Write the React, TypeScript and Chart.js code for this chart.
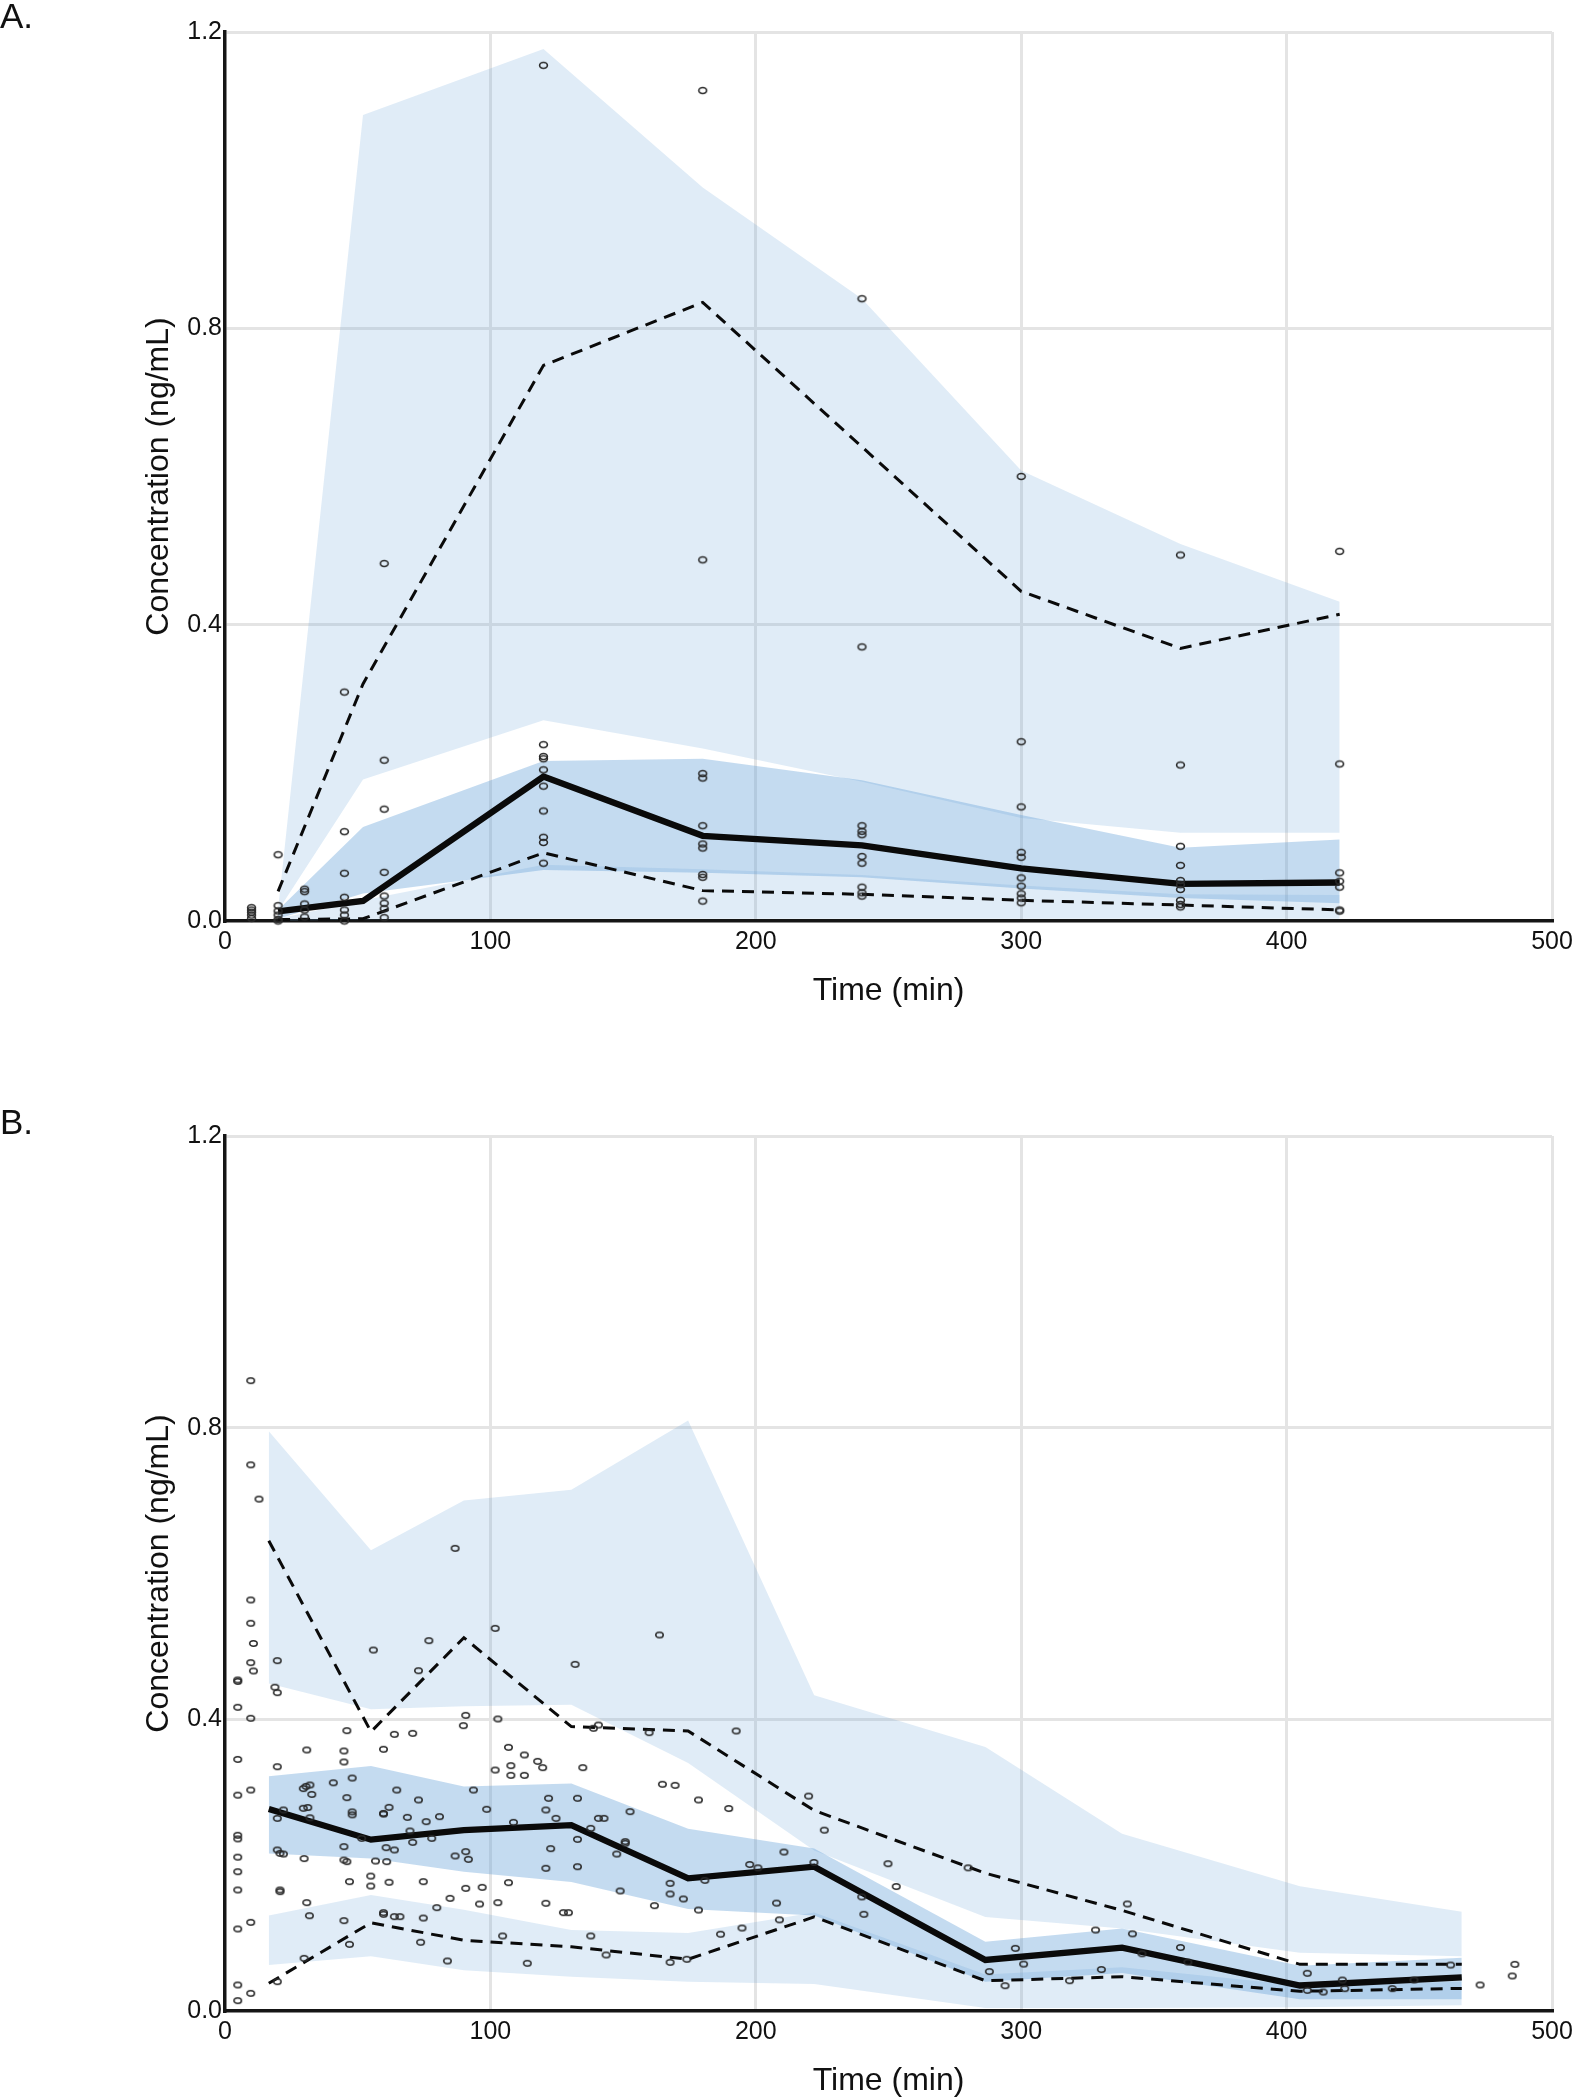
import React, { useEffect, useRef } from 'react';
import { Chart, registerables } from 'chart.js';

Chart.register(...registerables);

const FONT = "'Liberation Sans', Arial, Helvetica, sans-serif";
const LIGHT = 'rgba(100,160,215,0.2)';
const MID = 'rgba(100,160,215,0.38)';

// ---------------- Panel A ----------------
const binTimesA = [20, 52, 120, 180, 240, 300, 360, 420];
const obsMedianA = [0.013, 0.027, 0.195, 0.115, 0.102, 0.071, 0.05, 0.052];
const obsP95A = [0.04, 0.32, 0.75, 0.835, 0.64, 0.445, 0.368, 0.414];
const obsP5A = [0.002, 0.003, 0.092, 0.041, 0.036, 0.028, 0.0215, 0.015];
const ciP95UpperA = [0.016, 1.088, 1.177, 0.99, 0.84, 0.608, 0.509, 0.431];
const ciP95LowerA = [0.014, 0.191, 0.271, 0.233, 0.188, 0.139, 0.119, 0.119];
const ciMedUpperA = [0.015, 0.127, 0.216, 0.219, 0.19, 0.143, 0.099, 0.11];
const ciMedLowerA = [0.003, 0.037, 0.069, 0.065, 0.059, 0.044, 0.031, 0.024];
const ciP5UpperA = [0.003, 0.028, 0.076, 0.07, 0.062, 0.048, 0.036, 0.035];
const ciP5LowerA = [0.0, 0.002, 0.003, 0.003, 0.003, 0.003, 0.003, 0.003];

const observedA: [number, number][] = [
  [10, 0.018], [10, 0.0148], [10, 0.0118], [10, 0.008], [10, 0.0036],
  [20, 0.0895], [20, 0.0207], [20, 0.0135], [20, 0.008], [20, 0.0022], [20, 0.0],
  [30, 0.043], [30, 0.0396], [30, 0.023], [30, 0.0149], [30, 0.0054],
  [45, 0.309], [45, 0.1206], [45, 0.0644], [45, 0.032], [45, 0.0149], [45, 0.008], [45, 0.0],
  [60, 0.4825], [60, 0.217], [60, 0.151], [60, 0.0657], [60, 0.0337], [60, 0.024], [60, 0.0166], [60, 0.0045],
  [120, 1.155], [120, 0.238], [120, 0.222], [120, 0.219], [120, 0.204], [120, 0.182], [120, 0.1485], [120, 0.113], [120, 0.106], [120, 0.078],
  [180, 1.121], [180, 0.4875], [180, 0.199], [180, 0.193], [180, 0.1286], [180, 0.104], [180, 0.0985], [180, 0.0627], [180, 0.059], [180, 0.0269],
  [240, 0.84], [240, 0.37], [240, 0.1286], [240, 0.121], [240, 0.1165], [240, 0.087], [240, 0.078], [240, 0.0457], [240, 0.038], [240, 0.0336],
  [300, 0.6], [300, 0.242], [300, 0.154], [300, 0.0927], [300, 0.086], [300, 0.0582], [300, 0.047], [300, 0.0367], [300, 0.031], [300, 0.0246],
  [360, 0.494], [360, 0.2105], [360, 0.1008], [360, 0.075], [360, 0.0546], [360, 0.049], [360, 0.0426], [360, 0.0278], [360, 0.0224], [360, 0.019],
  [420, 0.499], [420, 0.212], [420, 0.065], [420, 0.0537], [420, 0.0457], [420, 0.0148], [420, 0.0134],
];

// ---------------- Panel B ----------------
const binTimesB = [16.5, 55, 90, 130.5, 174.5, 222, 286.5, 338, 405, 466];
const obsMedianB = [0.277, 0.235, 0.248, 0.255, 0.182, 0.198, 0.07, 0.087, 0.035, 0.046];
const obsP95B = [0.645, 0.383, 0.512, 0.39, 0.384, 0.275, 0.189, 0.138, 0.064, 0.064];
const obsP5B = [0.038, 0.121, 0.097, 0.088, 0.071, 0.129, 0.0415, 0.047, 0.027, 0.031];
const ciP95UpperB = [0.795, 0.632, 0.7, 0.715, 0.81, 0.433, 0.362, 0.243, 0.171, 0.136];
const ciP95LowerB = [0.449, 0.414, 0.418, 0.42, 0.34, 0.22, 0.129, 0.113, 0.08, 0.075];
const ciMedUpperB = [0.322, 0.336, 0.308, 0.312, 0.25, 0.223, 0.095, 0.113, 0.062, 0.073];
const ciMedLowerB = [0.216, 0.209, 0.191, 0.177, 0.14, 0.131, 0.04, 0.052, 0.016, 0.016];
const ciP5UpperB = [0.131, 0.159, 0.139, 0.111, 0.107, 0.135, 0.05, 0.06, 0.035, 0.04];
const ciP5LowerB = [0.063, 0.075, 0.056, 0.047, 0.04, 0.037, 0.004, 0.004, 0.005, 0.008];

const observedB: [number, number][] = [
  [4.8, 0.454], [4.8, 0.452], [4.8, 0.4165], [4.8, 0.345], [4.8, 0.296], [4.8, 0.241], [4.8, 0.236], [4.8, 0.211], [4.8, 0.191], [4.8, 0.166], [4.8, 0.1125], [4.8, 0.0357], [4.8, 0.0142],
  [9.7, 0.8645], [9.7, 0.749], [9.7, 0.5637], [9.7, 0.5317], [9.7, 0.4777], [9.7, 0.4014], [9.7, 0.303], [9.7, 0.1216], [9.7, 0.0242], [10.7, 0.504], [10.7, 0.4663], [12.8, 0.702],
  [19.7, 0.4805], [18.8, 0.444], [19.7, 0.4366], [19.7, 0.335], [22, 0.2757], [19.7, 0.2642], [19.7, 0.2208], [20.7, 0.2162], [22, 0.2153], [20.7, 0.166], [20.7, 0.1637], [19.7, 0.0402],
  [30.8, 0.358], [29.5, 0.305], [30.5, 0.308], [32, 0.31], [32.7, 0.297], [29.5, 0.278], [31.2, 0.279], [32, 0.265], [29.8, 0.209], [30.8, 0.1486], [31.8, 0.1307], [29.8, 0.0722],
  [40.8, 0.313], [44.8, 0.3566], [44.8, 0.3415], [45.9, 0.3845], [47.9, 0.3195], [45.9, 0.2926], [47.9, 0.273], [47.9, 0.269], [44.8, 0.2254], [44.8, 0.207], [45.9, 0.2048], [46.9, 0.1774], [44.8, 0.1239], [46.9, 0.0914],
  [51.5, 0.2368], [54.9, 0.185], [54.9, 0.1714], [55.9, 0.495], [56.7, 0.2057], [59.7, 0.3589], [59.7, 0.271], [59.7, 0.27], [59.7, 0.1349], [59.7, 0.1326], [60.7, 0.224], [60.9, 0.2048], [61.8, 0.2793], [61.8, 0.1765], [63.8, 0.3794], [63.8, 0.2208], [64.7, 0.303], [63.8, 0.1294], [65.9, 0.1294],
  [68.7, 0.2656], [69.7, 0.2469], [70.7, 0.3808], [70.7, 0.2313], [72.9, 0.4667], [72.9, 0.2894], [74.7, 0.1774], [74.7, 0.1275], [73.7, 0.0942], [75.8, 0.2597], [76.8, 0.5079], [77.9, 0.2368], [79.8, 0.1417], [80.8, 0.2665],
  [83.8, 0.0686], [84.8, 0.1545], [86.7, 0.2126], [86.7, 0.6345], [89.8, 0.3913], [90.7, 0.4055], [90.7, 0.2185], [90.7, 0.1682], [91.7, 0.208], [93.6, 0.303], [95.9, 0.1467], [96.9, 0.1696],
  [98.6, 0.2766], [101.8, 0.5248], [101.8, 0.3305], [102.8, 0.4005], [102.8, 0.1486], [104.6, 0.1029], [106.8, 0.3616], [107.7, 0.3365], [107.7, 0.3232], [108.7, 0.2587], [106.8, 0.176], [112.8, 0.3511], [112.8, 0.3232], [113.9, 0.0654],
  [117.8, 0.3424], [119.7, 0.3337], [120.9, 0.2757], [120.9, 0.1957], [120.9, 0.1477], [121.9, 0.2917], [122.7, 0.2226], [124.7, 0.2642], [127.5, 0.1349], [129.4, 0.1349], [131.9, 0.4754], [132.8, 0.2917], [132.8, 0.2354], [132.8, 0.1979], [134.8, 0.3337], [137.8, 0.2505], [137.8, 0.1029], [138.8, 0.3877], [140.7, 0.3922], [140.7, 0.2642], [142.8, 0.2642], [143.6, 0.0768],
  [147.6, 0.2153], [148.9, 0.1646], [150.8, 0.2322], [150.8, 0.23], [152.6, 0.2734], [159.8, 0.3817], [161.8, 0.1445], [163.7, 0.5157], [164.8, 0.3109], [167.7, 0.1751], [167.7, 0.1605], [167.7, 0.0667], [169.6, 0.3095], [172.7, 0.1536], [174, 0.0709], [178.4, 0.2894], [178.4, 0.1385],
  [180.8, 0.1792], [186.7, 0.1053], [189.8, 0.2777], [192.6, 0.384], [194.8, 0.1138], [197.7, 0.2009], [200.8, 0.1963], [207.8, 0.148], [208.9, 0.125], [210.6, 0.218], [219.9, 0.2947], [221.9, 0.2037], [225.8, 0.248],
  [239.9, 0.1565], [240.7, 0.1326], [249.8, 0.202], [252.9, 0.1707], [280, 0.1963], [288, 0.054], [293.9, 0.0347], [297.8, 0.0859], [300.9, 0.0643],
  [318.2, 0.0415], [328, 0.111], [330.2, 0.0569], [340, 0.1468], [341.9, 0.1058], [345.5, 0.0785], [360, 0.087], [362.8, 0.0671],
  [407.8, 0.0517], [407.8, 0.0283], [413.8, 0.026], [421, 0.0425], [421.9, 0.0306], [439.8, 0.0306], [448, 0.0425], [461.8, 0.063], [472.9, 0.0357], [485, 0.048], [486, 0.064],
];

type XY = { x: number; y: number };
const toXY = (xs: number[], ys: number[]): XY[] => xs.map((x, i) => ({ x, y: ys[i] }));

function makeMarker(rx: number, ry: number): HTMLCanvasElement {
  const c = document.createElement('canvas');
  c.width = Math.ceil(rx * 2 + 5);
  c.height = Math.ceil(ry * 2 + 5);
  const ctx = c.getContext('2d')!;
  ctx.strokeStyle = '#2a2a2a';
  ctx.lineWidth = 1.6;
  ctx.beginPath();
  ctx.ellipse(c.width / 2, c.height / 2, rx, ry, 0, 0, Math.PI * 2);
  ctx.stroke();
  return c;
}

function buildDatasets(
  times: number[], med: number[], p95: number[], p5: number[],
  hiUp: number[], hiLo: number[], mdUp: number[], mdLo: number[], loUp: number[], loLo: number[],
  observed: [number, number][], marker: HTMLCanvasElement,
): any[] {
  const band = (data: XY[], fill: any, color: string) => ({
    type: 'line', data, borderWidth: 0, borderColor: 'rgba(0,0,0,0)', pointRadius: 0,
    fill, backgroundColor: color, tension: 0,
  });
  const line = (data: XY[], width: number, dash: number[]) => ({
    type: 'line', data, borderColor: '#0a0a0a', borderWidth: width, borderDash: dash,
    pointRadius: 0, fill: false, tension: 0, borderJoinStyle: 'miter', borderCapStyle: 'butt',
  });
  return [
    {
      type: 'scatter', data: observed.map(([x, y]) => ({ x, y })), pointStyle: marker,
      pointRadius: 4, showLine: false, clip: false,
    },
    line(toXY(times, med), 6.3, []),
    line(toXY(times, p95), 3, [12, 8]),
    line(toXY(times, p5), 3, [12, 8]),
    band(toXY(times, hiLo), false, LIGHT),
    band(toXY(times, hiUp), '-1', LIGHT),
    band(toXY(times, mdLo), false, MID),
    band(toXY(times, mdUp), '-1', MID),
    band(toXY(times, loLo), false, LIGHT),
    band(toXY(times, loUp), '-1', LIGHT),
  ];
}

function buildOptions(padTop: number, padBottom: number, xHeight: number, label: string, labelY: number): any {
  const gridColor = (ctx: any) => (ctx.tick && ctx.tick.value === 0 ? 'rgba(0,0,0,0)' : '#e4e4e4');
  return {
    responsive: false,
    animation: false,
    events: [],
    layout: { padding: { left: 140, right: 21, top: padTop, bottom: padBottom } },
    plugins: {
      legend: { display: false },
      tooltip: { enabled: false },
      panelLabel: { text: label, y: labelY },
    },
    scales: {
      x: {
        type: 'linear', min: 0, max: 500,
        ticks: { stepSize: 100, font: { family: FONT, size: 25 }, color: '#111', padding: 6, maxRotation: 0 },
        grid: { color: gridColor, lineWidth: 3, drawTicks: false },
        border: { display: true, color: '#151515', width: 3.5 },
        title: { display: true, text: 'Time (min)', font: { family: FONT, size: 32 }, color: '#111', padding: { top: 0, bottom: padBottom === 0 ? 0 : 6 } },
        afterFit: (s: any) => { s.height = xHeight; s.paddingLeft = 0; s.paddingRight = 0; },
      },
      y: {
        type: 'linear', min: 0, max: 1.2,
        ticks: { stepSize: 0.4, font: { family: FONT, size: 25 }, color: '#111', padding: 3, callback: (v: any) => Number(v).toFixed(1) },
        grid: { color: gridColor, lineWidth: 3, drawTicks: false },
        border: { display: true, color: '#151515', width: 3.5 },
        title: { display: true, text: 'Concentration (ng/mL)', font: { family: FONT, size: 32 }, color: '#111', padding: { top: 0, bottom: 0 } },
        afterFit: (s: any) => { s.width = 85; s.paddingTop = 0; s.paddingBottom = 0; },
      },
    },
  };
}

const panelLabelPlugin = {
  id: 'panelLabel',
  afterDraw(chart: any, _args: any, opts: any) {
    const ctx = chart.ctx;
    ctx.save();
    ctx.font = `35px ${FONT}`;
    ctx.fillStyle = '#111';
    ctx.textBaseline = 'alphabetic';
    ctx.textAlign = 'left';
    ctx.fillText(opts.text, 0, opts.y);
    ctx.restore();
  },
};

const W = 1573;
const HA = 1040;
const HB = 1060;

export default function App() {
  const refA = useRef<HTMLCanvasElement>(null);
  const refB = useRef<HTMLCanvasElement>(null);

  useEffect(() => {
    const markerA = makeMarker(3.9, 2.95);
    const markerB = makeMarker(3.7, 2.75);
    const chartA = new Chart(refA.current!, {
      type: 'scatter',
      data: {
        datasets: buildDatasets(binTimesA, obsMedianA, obsP95A, obsP5A, ciP95UpperA, ciP95LowerA,
          ciMedUpperA, ciMedLowerA, ciP5UpperA, ciP5LowerA, observedA, markerA),
      },
      options: buildOptions(32, 24, 95, 'A.', 28),
      plugins: [panelLabelPlugin],
    } as any);
    const chartB = new Chart(refB.current!, {
      type: 'scatter',
      data: {
        datasets: buildDatasets(binTimesB, obsMedianB, obsP95B, obsP5B, ciP95UpperB, ciP95LowerB,
          ciMedUpperB, ciMedLowerB, ciP5UpperB, ciP5LowerB, observedB, markerB),
      },
      options: buildOptions(96, 0, 89, 'B.', 94),
      plugins: [panelLabelPlugin],
    } as any);
    return () => {
      chartA.destroy();
      chartB.destroy();
    };
  }, []);

  return (
    <div style={{ position: 'absolute', left: 0, top: 0, width: W, height: HA + HB, overflow: 'hidden', background: '#fff' }}>
      <canvas ref={refA} width={W} height={HA} style={{ position: 'absolute', left: 0, top: 0, width: W, height: HA }} />
      <canvas ref={refB} width={W} height={HB} style={{ position: 'absolute', left: 0, top: HA, width: W, height: HB }} />
    </div>
  );
}
